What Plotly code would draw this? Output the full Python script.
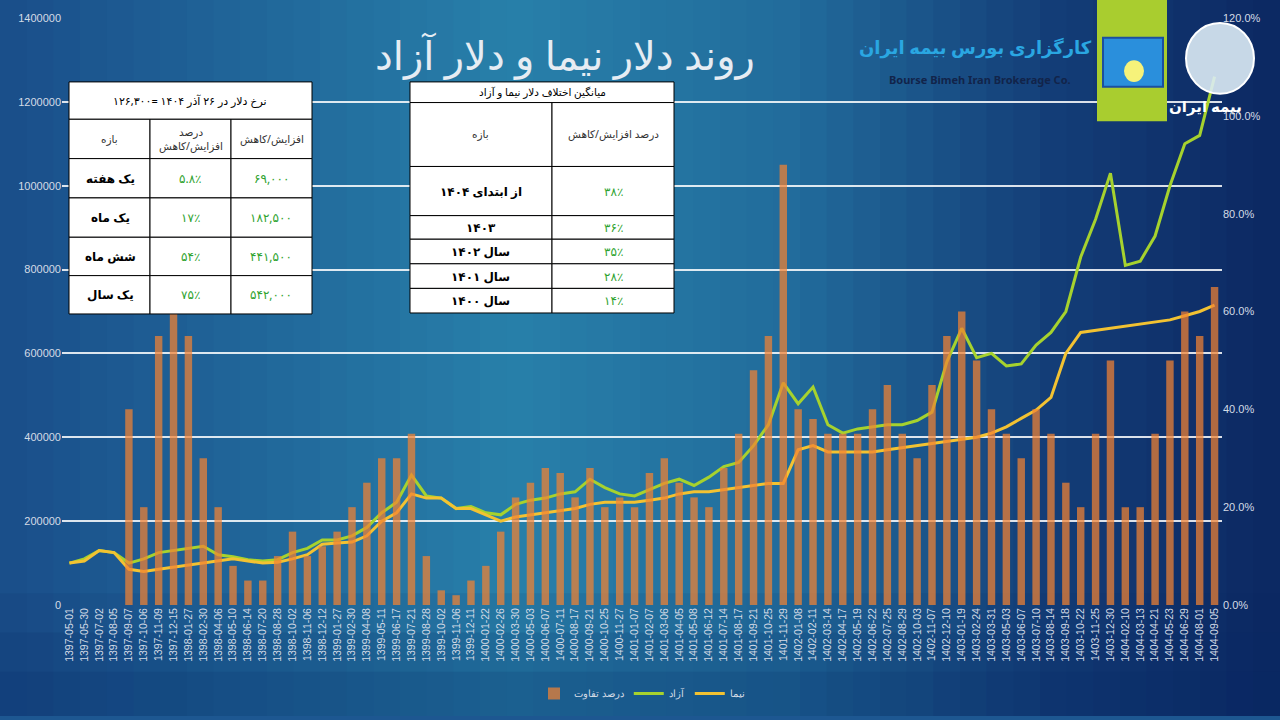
import plotly.graph_objects as go

dates = ["1397-05-01","1397-05-30","1397-07-02","1397-08-05","1397-09-07","1397-10-06","1397-11-09","1397-12-15",
"1398-01-27","1398-02-30","1398-04-06","1398-05-10","1398-06-14","1398-07-20","1398-08-28","1398-10-02","1398-11-06","1398-12-12",
"1399-01-27","1399-02-30","1399-04-08","1399-05-11","1399-06-17","1399-07-21","1399-08-28","1399-10-02","1399-11-06","1399-12-11",
"1400-01-22","1400-02-26","1400-03-30","1400-05-03","1400-06-07","1400-07-11","1400-08-17","1400-09-21","1400-10-25","1400-11-27",
"1401-01-07","1401-02-07","1401-03-06","1401-04-05","1401-05-08","1401-06-12","1401-07-14","1401-08-17","1401-09-21","1401-10-25","1401-11-29",
"1402-01-08","1402-02-11","1402-03-14","1402-04-17","1402-05-19","1402-06-22","1402-07-25","1402-08-29","1402-10-03","1402-11-07","1402-12-10",
"1403-01-19","1403-02-24","1403-03-31","1403-05-03","1403-06-07","1403-07-10","1403-08-14","1403-09-18","1403-10-22","1403-11-25","1403-12-30",
"1404-02-10","1404-03-13","1404-04-21","1404-05-23","1404-06-29","1404-08-01","1404-09-05"]

azad = [100000,110000,130000,125000,100000,110000,125000,130000,135000,140000,120000,115000,108000,105000,108000,125000,135000,155000,
155000,165000,185000,220000,245000,310000,260000,255000,230000,235000,220000,215000,240000,250000,255000,265000,270000,300000,280000,265000,
260000,275000,290000,300000,285000,305000,330000,340000,380000,430000,530000,480000,520000,430000,410000,420000,425000,430000,430000,440000,
460000,580000,660000,590000,600000,570000,575000,620000,650000,700000,830000,920000,1030000,810000,820000,880000,1000000,1100000,1120000,1260000]

nima = [100000,105000,130000,125000,85000,80000,85000,90000,95000,100000,105000,110000,105000,100000,102000,110000,120000,145000,
148000,150000,165000,200000,220000,265000,255000,255000,230000,230000,215000,200000,210000,215000,220000,225000,230000,240000,245000,245000,
245000,250000,255000,265000,270000,270000,275000,280000,285000,290000,290000,370000,380000,365000,365000,365000,365000,370000,375000,380000,
385000,390000,395000,400000,410000,425000,445000,465000,495000,600000,650000,655000,660000,665000,670000,675000,680000,690000,700000,715000]

diff_pct = [0,0,0,0,0.40,0.20,0.55,0.60,0.55,0.30,0.20,0.08,0.05,0.05,0.10,0.15,0.10,0.12,0.15,0.20,0.25,0.30,0.30,0.35,0.10,0.03,0.02,0.05,
0.08,0.15,0.22,0.25,0.28,0.27,0.22,0.28,0.20,0.22,0.20,0.27,0.30,0.25,0.22,0.20,0.28,0.35,0.48,0.55,0.90,0.40,0.38,0.35,0.35,0.35,0.40,0.45,
0.35,0.30,0.45,0.55,0.60,0.50,0.40,0.35,0.30,0.40,0.35,0.25,0.20,0.35,0.50,0.20,0.20,0.35,0.50,0.60,0.55,0.65]

title_text = "روند دلار نیما و دلار آزاد"
t1_title = "نرخ دلار در ۲۶ آذر ۱۴۰۴ =۱۲۶,۳۰۰"
t1_head = ["بازه", "درصد<br>افزایش/کاهش", "افزایش/کاهش"]
t1_period = ["یک هفته", "یک ماه", "شش ماه", "یک سال"]
t1_pct = ["۵.۸٪", "۱۷٪", "۵۴٪", "۷۵٪"]
t1_abs = ["۶۹,۰۰۰", "۱۸۲,۵۰۰", "۴۴۱,۵۰۰", "۵۴۲,۰۰۰"]
t2_title = "میانگین اختلاف دلار نیما و آزاد"
t2_head = ["بازه", "درصد افزایش/کاهش"]
t2_period = ["از ابتدای ۱۴۰۴", "۱۴۰۳", "سال ۱۴۰۲", "سال ۱۴۰۱", "سال ۱۴۰۰"]
t2_pct = ["۳۸٪", "۳۶٪", "۳۵٪", "۲۸٪", "۱۴٪"]

L, R, T, B = 62, 1222, 15, 612
def px(x): return (x - L) / (R - L)
def py(y): return (B - y) / (B - T)

fig = go.Figure()
fig.add_bar(x=dates, y=diff_pct, yaxis="y2", name="درصد تفاوت",
            marker=dict(color="rgba(242,130,50,0.72)", line=dict(width=0)), width=0.5)
fig.add_scatter(x=dates, y=azad, mode="lines", name="آزاد", line=dict(color="#a6d22e", width=3))
fig.add_scatter(x=dates, y=nima, mode="lines", name="نیما", line=dict(color="#f2c232", width=3))

shapes, ann = [], []
stops = [(0, (26, 78, 138)), (0.4, (40, 128, 170)), (0.62, (34, 108, 156)), (0.82, (20, 62, 120)), (1, (12, 40, 98))]
N = 48
for i in range(N):
    f = (i + 0.5) / N
    for j in range(len(stops) - 1):
        a, ca = stops[j]; b, cb = stops[j + 1]
        if a <= f <= b:
            t = (f - a) / (b - a)
            c = tuple(int(ca[k] + (cb[k] - ca[k]) * t) for k in range(3))
            break
    x0 = i * 1280 / N; x1 = (i + 1) * 1280 / N + 1
    shapes.append(dict(type="rect", xref="paper", yref="paper", x0=px(x0), x1=px(x1), y0=py(725), y1=py(-5),
                       fillcolor="rgb(%d,%d,%d)" % c, line=dict(width=0), layer="below"))
for k, (ya, al) in enumerate([(600, 0.1), (640, 0.15), (680, 0.15)]):
    shapes.append(dict(type="rect", xref="paper", yref="paper", x0=px(0), x1=px(1280), y0=py(725), y1=py(ya),
                       fillcolor="rgba(10,40,100,%s)" % al, line=dict(width=0), layer="below"))

def cell(x0, x1, y0, y1):
    shapes.append(dict(type="rect", xref="paper", yref="paper", x0=px(x0), x1=px(x1), y0=py(y1), y1=py(y0),
                       fillcolor="white", line=dict(color="black", width=1)))
def txt(x, y, s, size=12, color="black", bold=False):
    ann.append(dict(xref="paper", yref="paper", x=px(x), y=py(y), text=("<b>%s</b>" % s) if bold else s,
                    showarrow=False, font=dict(size=size, color=color, family="Noto Sans, DejaVu Sans"),
                    xanchor="center", yanchor="middle"))
GREEN = "#2fa32f"
xs1 = [69, 150, 231, 312]; ys1 = [80, 118, 158, 198, 238, 277, 316]
cell(69, 312, 80, 118); txt(190, 99, t1_title, 11)
for r in range(1, 6):
    for c in range(3):
        cell(xs1[c], xs1[c + 1], ys1[r], ys1[r + 1])
for c in range(3):
    txt((xs1[c] + xs1[c + 1]) / 2, 138, t1_head[c], 10.5, "#333")
for r in range(4):
    yc = (ys1[r + 2] + ys1[r + 3]) / 2
    txt(110, yc, t1_period[r], 12, bold=True)
    txt(190, yc, t1_pct[r], 12, GREEN)
    txt(271, yc, t1_abs[r], 12, GREEN)
xs2 = [410, 552, 674]; ys2 = [80, 101, 166, 216, 240, 265, 290, 315]
cell(410, 674, 80, 101); txt(542, 90.5, t2_title, 10.5)
for r in range(1, 7):
    for c in range(2):
        cell(xs2[c], xs2[c + 1], ys2[r], ys2[r + 1])
txt(481, 133, t2_head[0], 10.5, "#333"); txt(613, 133, t2_head[1], 10.5, "#333")
for r in range(5):
    yc = (ys2[r + 2] + ys2[r + 3]) / 2
    txt(481, yc, t2_period[r], 12, bold=True)
    txt(613, yc, t2_pct[r], 12, GREEN)

txt(565, 52, title_text, 40, "#e6ecf3")
shapes.append(dict(type="rect", xref="paper", yref="paper", x0=px(1097), x1=px(1167), y0=py(120), y1=py(-5),
                   fillcolor="#a9cd2f", line=dict(width=0)))
shapes.append(dict(type="rect", xref="paper", yref="paper", x0=px(1103), x1=px(1163), y0=py(85), y1=py(35),
                   fillcolor="#2a8fdc", line=dict(color="#1b4fa0", width=2)))
shapes.append(dict(type="circle", xref="paper", yref="paper", x0=px(1124), x1=px(1144), y0=py(80), y1=py(58),
                   fillcolor="#f6f27a", line=dict(width=0)))
txt(975, 45, "کارگزاری بورس بیمه ایران", 18, "#2aa7e2", bold=True)
txt(980, 78, "<b>Bourse Bimeh Iran Brokerage Co.</b>", 11, "#12244a")
shapes.append(dict(type="circle", xref="paper", yref="paper", x0=px(1186), x1=px(1254), y0=py(92), y1=py(20),
                   fillcolor="rgba(220,235,245,0.9)", line=dict(color="white", width=2)))
txt(1205, 104, "بیمه ایران", 15, "white", bold=True)

fig.update_layout(
    width=1280, height=720, margin=dict(l=L, r=1280 - R, t=T, b=720 - B),
    paper_bgcolor="#1d5791", plot_bgcolor="rgba(0,0,0,0)",
    shapes=shapes, annotations=ann, bargap=0.2,
    font=dict(family="Liberation Sans, Arial", color="#d4dbe6"),
    xaxis=dict(type="category", tickangle=-90, tickfont=dict(size=10.5, color="#d4dbe6"),
               showgrid=False, showline=False, ticks=""),
    yaxis=dict(range=[0, 1400000], dtick=200000, tickformat="d", gridcolor="rgba(255,255,255,0.85)",
               gridwidth=1.5, zeroline=False, tickfont=dict(size=11, color="#d4dbe6")),
    yaxis2=dict(overlaying="y", side="right", range=[0, 1.2], dtick=0.2, tickformat=".1%",
                showgrid=False, zeroline=False, tickfont=dict(size=11, color="#d4dbe6")),
    legend=dict(orientation="h", x=0.5, xanchor="center", y=py(702), yanchor="middle",
                font=dict(size=10, color="#d4dbe6"), bgcolor="rgba(0,0,0,0)", traceorder="normal"),
    showlegend=True,
)
fig.write_html("out.html", config={"displayModeBar": False},
               post_script="document.body.style.margin='0';document.body.style.overflow='hidden';")
